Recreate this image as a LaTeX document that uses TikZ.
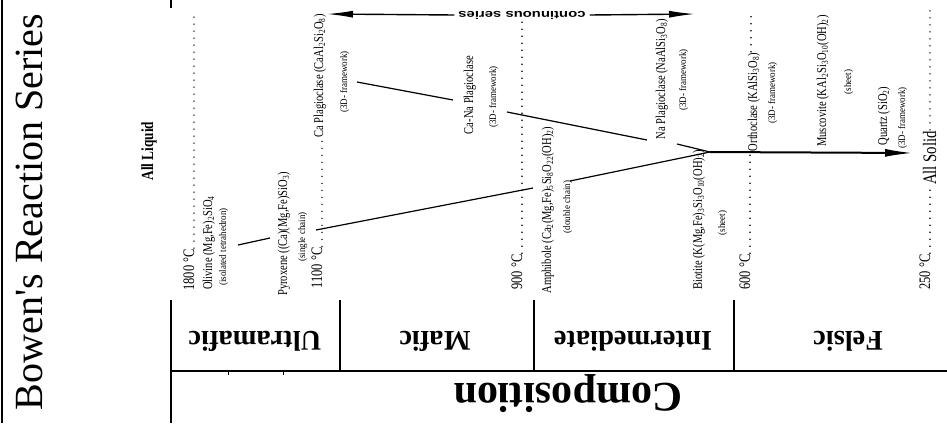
\documentclass[tikz,border=0pt]{standalone}
\usepackage{fontspec}
\setmainfont{Liberation Serif}
\newfontfamily\cf[FakeStretch=0.78]{Liberation Serif}
\newfontfamily\nf[FakeStretch=0.9]{Liberation Serif}
\newfontfamily\wf[FakeStretch=1.35]{Liberation Sans}
\usetikzlibrary{arrows.meta}
\begin{document}
\begin{tikzpicture}[x=1pt,y=-1pt,
  rot/.style={rotate=90, anchor=base, inner sep=1pt},
  temp/.style={rot, font=\cf\fontsize{16}{16}\selectfont},
  mineral/.style={rot, font=\cf\fontsize{13.5}{13.5}\selectfont},
  note/.style={rot, font=\nf\fontsize{10}{10}\selectfont},
  comp/.style={rotate=180, anchor=base, inner sep=0pt, font=\bfseries\fontsize{28.5}{28.5}\selectfont},
  dotline/.style={line width=1.6pt, dash pattern=on 0pt off 7pt, line cap=round},
  frame/.style={line width=1.5pt},
  link/.style={line width=1.2pt},
  toparrow/.style={line width=1.4pt, -{Latex[length=26pt,width=7pt]}},
  bigarrow/.style={line width=2pt, -{Latex[length=28pt,width=8pt]}},
]
\useasboundingbox (0,0) rectangle (947,423);

% frame
\draw[frame] (2,0) -- (2,423);
\draw[frame] (171,0) -- (171,8);
\coordinate (fl) at (171,300);
\coordinate (fb) at (171,423);
\coordinate (hl) at (171,371);
\coordinate (hr) at (947,371);
\draw[frame] (fl) -- (fb);
\draw[frame] (hl) -- (hr);
\draw[frame] (340,300) -- (340,371);
\draw[frame] (534,300) -- (534,371);
\draw[frame] (734,300) -- (734,371);
\draw[line width=1pt] (228,371) -- (228,375);
\draw[line width=1pt] (283,371) -- (283,375);

% title and composition
\node[rotate=90, anchor=base, inner sep=0pt, font=\fontsize{40}{40}\selectfont] (title) at (42,212) {Bowen\textquotesingle s Reaction Series};
\node[rotate=180, anchor=base, inner sep=0pt, font=\bfseries\fontsize{42}{42}\selectfont] (composition) at (568,383) {Composition};
\node[comp] (ultramafic) at (255,331) {Ultramafic};
\node[comp] (mafic) at (435,331) {Mafic};
\node[comp] (intermediate) at (633,331) {Intermediate};
\node[comp] (felsic) at (848,331) {Felsic};

% liquid / solid
\node[rot, font=\cf\bfseries\fontsize{17}{17}\selectfont] (liquid) at (153,151) {All Liquid};

% temperatures
\node[temp] (t1800) at (194,270) {1800 °C};
\node[temp] (t1100) at (322,268) {1100 °C};
\node[temp] (t900) at (522,272) {900 °C};
\node[temp] (t600) at (750,272) {600 °C};
\node[temp] (t250) at (930,272) {250 °C};
\node[rot, font=\cf\fontsize{19}{19}\selectfont] (solid) at (936,158) {All Solid};

% minerals
\node[mineral] (oliv) at (212,243) {Olivine (Mg,Fe)\textsubscript{2}SiO\textsubscript{4}};
\node[note] (olivn) at (226,247) {(isolated tetrahedron)};
\node[mineral] (pyro) at (287,234) {Pyroxene ((Ca)(Mg,Fe)SiO\textsubscript{3})};
\node[note] (pyron) at (305,237) {(single chain)};
\node[mineral] (caplag) at (323,76) {Ca Plagioclase (CaAl\textsubscript{2}Si\textsubscript{2}O\textsubscript{8})};
\node[note] (caplagn) at (347,82) {(3D- framework)};
\node[mineral] (canaplag) at (473,95) {Ca-Na Plagioclase};
\node[note] (canaplagn) at (496,97) {(3D- framework)};
\node[mineral] (amph) at (551,210) {Amphibole (Ca\textsubscript{2}(Mg,Fe)\textsubscript{5}Si\textsubscript{8}O\textsubscript{22}(OH)\textsubscript{2})};
\node[note] (amphn) at (570,207) {(double chain)};
\node[mineral] (naplag) at (665,79) {Na Plagioclase (NaAlSi\textsubscript{3}O\textsubscript{8})};
\node[note] (naplagn) at (686,80) {(3D- framework)};
\node[mineral] (biot) at (702,220) {Biotite (K(Mg,Fe)\textsubscript{3}Si\textsubscript{3}O\textsubscript{10}(OH)\textsubscript{2})};
\node[note] (biotn) at (725,223) {(sheet)};
\node[mineral] (orth) at (757,102) {Orthoclase (KAlSi\textsubscript{3}O\textsubscript{8})};
\node[note] (orthn) at (775,93) {(3D- framework)};
\node[mineral] (musc) at (826,81) {Muscovite (KAl\textsubscript{2}Si\textsubscript{3}O\textsubscript{10}(OH)\textsubscript{2})};
\node[note] (muscn) at (851,82) {(sheet)};
\node[mineral] (qtz) at (887,116) {Quartz (SiO\textsubscript{2})};
\node[note] (qtzn) at (905,118) {(3D- framework)};

% dotted temperature lines
\coordinate (d1800) at (194,12);
\coordinate (d900) at (522,20);
\coordinate (d600) at (751,10);
\coordinate (d250) at (930,10);
\draw[dotline] (t1800.base east) -- (d1800);
\draw[dotline] (t1100.base east) -- (t1100.base east |- caplag.west);
\draw[dotline] (t900.base east) -- (d900);
\draw[dotline] (t600.base east) -- (t600.base east |- orth.west);
\draw[dotline] (orth.east -| d600) -- (d600);
\draw[dotline] (t250.base east) -- (t250.base east |- solid.west);
\draw[dotline] (solid.east -| d250) -- (d250);

% continuous series arrow
\node[rotate=180, inner sep=4pt, font=\wf\bfseries\fontsize{11}{11}\selectfont] (cs) at (522,15) {continuous series};
\coordinate (csl) at (327,14);
\coordinate (csr) at (695,14);
\draw[toparrow] (cs.east) -- (csl);
\draw[toparrow] (cs.west) -- (csr);

% reaction links
\coordinate (a1) at (238,245);
\coordinate (b1) at (270,238);
\coordinate (a2) at (316,230);
\coordinate (b2) at (533,188);
\coordinate (a3) at (570,181);
\coordinate (J) at (710,152);
\coordinate (a4) at (357,82);
\coordinate (b4) at (453,100);
\coordinate (a5) at (507,112);
\coordinate (b5) at (647,140);
\coordinate (a6) at (677,144);
\coordinate (tip) at (913,153);
\draw[link] (a1) -- (b1);
\draw[link] (a2) -- (b2);
\draw[link] (a3) -- (J);
\draw[link] (a4) -- (b4);
\draw[link] (a5) -- (b5);
\draw[link] (a6) -- (J);
\draw[bigarrow] (J) -- (tip);
\end{tikzpicture}
\end{document}
